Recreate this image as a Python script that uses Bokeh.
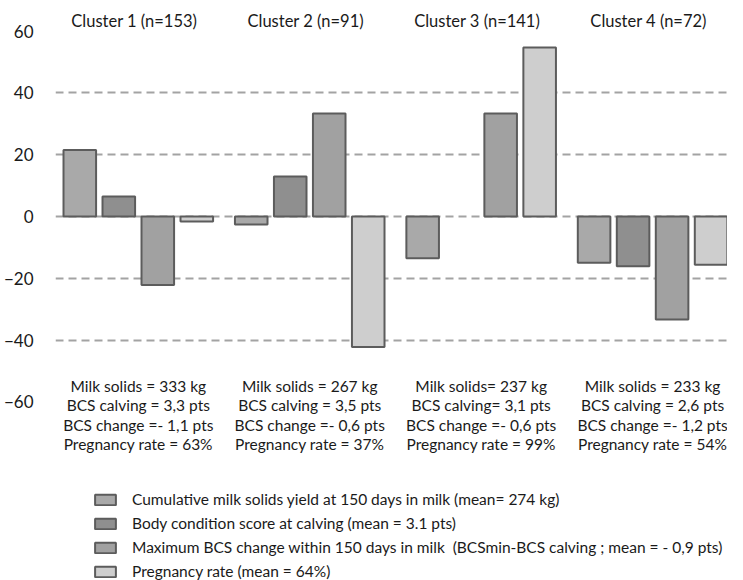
from bokeh.plotting import figure
from bokeh.models import ColumnDataSource, Range1d, FixedTicker, Legend, LegendItem
from bokeh.core.properties import value
from bokeh.embed import file_html
from bokeh.resources import INLINE

# ---------------- data ----------------
clusters = ["Cluster 1 (n=153)", "Cluster 2 (n=91)", "Cluster 3 (n=141)", "Cluster 4 (n=72)"]
series_names = [
    "Cumulative milk solids yield at 150 days in milk (mean= 274 kg)",
    "Body condition score at calving (mean = 3.1 pts)",
    "Maximum BCS change within 150 days in milk  (BCSmin-BCS calving ; mean = - 0,9 pts)",
    "Pregnancy rate (mean = 64%)",
]
milk_solids = [21.5, -2.6, -13.5, -15.0]
bcs_calving = [6.5, 12.9, 0.0, -16.1]
bcs_change = [-22.2, 33.3, 33.3, -33.3]
pregnancy = [-1.6, -42.2, 54.7, -15.6]
y_ticks = [-60, -40, -20, 0, 20, 40, 60]
grid_ticks = [-40, -20, 0, 20, 40]
annotations = [
    ["Milk solids = 333 kg", "BCS calving = 3,3 pts", "BCS change =- 1,1 pts", "Pregnancy rate = 63%"],
    ["Milk solids = 267 kg", "BCS calving = 3,5 pts", "BCS change =- 0,6 pts", "Pregnancy rate = 37%"],
    ["Milk solids= 237 kg", "BCS calving= 3,1 pts", "BCS change =- 0,6 pts", "Pregnancy rate = 99%"],
    ["Milk solids = 233 kg", "BCS calving = 2,6 pts", "BCS change =- 1,2 pts", "Pregnancy rate = 54%"],
]

# ---------------- styles ----------------
fills = ["#a9a9a9", "#8f8f8f", "#a1a1a1", "#cecece"]
edge = "#5c5c5c"
FONT = "Lato"
TXT = "#1a1a1a"

p = figure(width=727, height=580, output_backend="svg", toolbar_location=None,
           x_range=Range1d(-0.483, 3.437), y_range=Range1d(-117.8, 67.3),
           x_axis_location=None, min_border_left=45, min_border_right=0,
           min_border_top=8, min_border_bottom=0)
p.outline_line_color = None
p.background_fill_color = "white"
p.xgrid.visible = False

p.yaxis.ticker = FixedTicker(ticks=y_ticks)
p.yaxis.axis_line_color = None
p.yaxis.major_tick_line_color = None
p.yaxis.minor_tick_line_color = None
p.yaxis.major_label_standoff = 16
p.yaxis.major_label_text_font = FONT
p.yaxis.major_label_text_font_size = "17px"
p.yaxis.major_label_text_color = TXT

p.ygrid.ticker = FixedTicker(ticks=grid_ticks)
p.ygrid.grid_line_color = "#a3a3a3"
p.ygrid.grid_line_width = 2
p.ygrid.grid_line_dash = "8 5"

step = 0.2275
bar_w = 0.19
cx = list(range(len(clusters)))
all_series = [milk_solids, bcs_calving, bcs_change, pregnancy]
items = []
for k, vals in enumerate(all_series):
    off = (k - 1.5) * step
    src = ColumnDataSource(dict(x=[c + off for c in cx], top=vals,
                                la=[0.0 if v == 0 else 1.0 for v in vals]))
    r = p.vbar(x="x", top="top", bottom=0, width=bar_w, source=src,
               fill_color=fills[k], line_color=edge, line_width=2, line_alpha="la")
    items.append(LegendItem(label=series_names[k], renderers=[r]))

# cluster titles
p.text(x=cx, y=[63.4] * len(cx), text=clusters, text_align="center",
       text_baseline="middle", text_font=value(FONT), text_font_size="16.5px",
       text_color=TXT, x_offset=-4)

# annotations below the bars
ax, ay, at = [], [], []
line_step = 19.5 / 3.09
for i, lines in enumerate(annotations):
    for j, t in enumerate(lines):
        ax.append(cx[i])
        ay.append(-54.7 - j * line_step)
        at.append(t)
p.text(x=ax, y=ay, text=at, text_align="center", text_baseline="middle",
       text_font=value(FONT), text_font_size="15.5px", text_color=TXT)

legend = Legend(items=items, location=(37, 0), orientation="vertical",
                padding=0, margin=0, spacing=6, glyph_width=26, glyph_height=13,
                label_height=18, label_standoff=14, border_line_color=None,
                background_fill_alpha=0, label_text_font=FONT,
                label_text_font_size="15.5px", label_text_color=TXT)
p.add_layout(legend, "center")

open("out.html", "w").write(file_html(p, INLINE))
